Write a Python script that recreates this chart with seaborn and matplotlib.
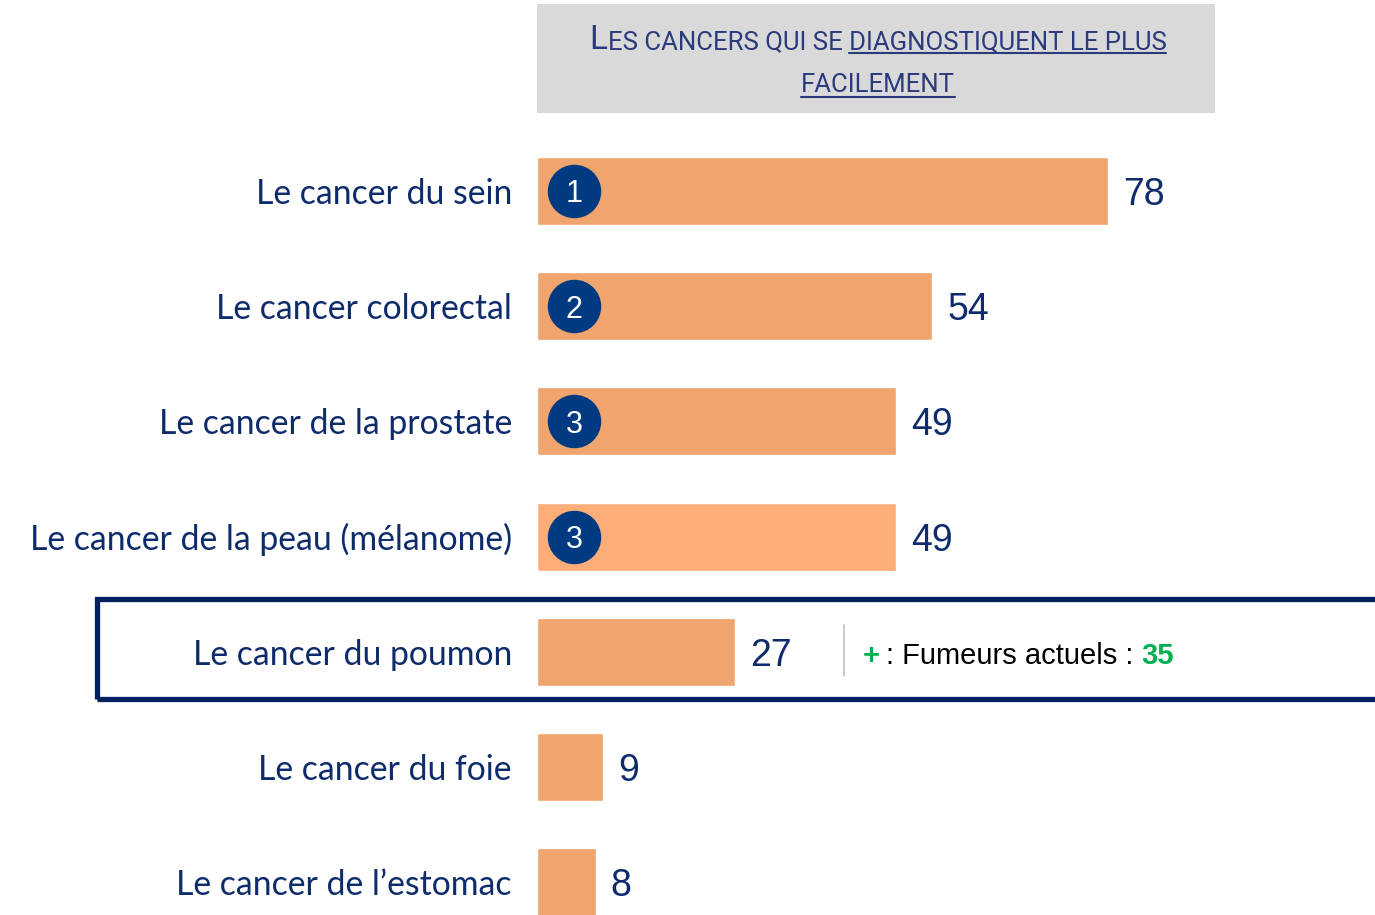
import matplotlib
matplotlib.use("Agg")
import matplotlib.pyplot as plt
import matplotlib.transforms as mtransforms
from matplotlib.patches import Rectangle
import pandas as pd
import seaborn as sns

# ---------------------------------------------------------
# DATA
# ---------------------------------------------------------
categories = ["Le cancer du sein", "Le cancer colorectal", "Le cancer de la prostate",
              "Le cancer de la peau (mélanome)", "Le cancer du poumon", "Le cancer du foie",
              "Le cancer de l’estomac"]
values = [78, 54, 49, 49, 27, 9, 8]
ranks = ["1", "2", "3", "3", "", "", ""]
highlight = "Le cancer du poumon"
smokers_label = ": Fumeurs actuels : "
smokers_value = 35
title_lead = "L"
title_rest = "ES CANCERS QUI SE DIAGNOSTIQUENT LE PLUS"
title_underlined = "DIAGNOSTIQUENT LE PLUS"
title_line2 = "FACILEMENT"

bar_colors = ["#F0A46E", "#F0A46E", "#F0A46E", "#FDAE78", "#F0A46E", "#F0A46E", "#F0A46E"]
NAVY = "#0E2C6B"
BADGE = "#003A80"
GREEN = "#00B050"
TITLE_COL = "#2B3A7C"
ARIAL = ["Liberation Sans", "DejaVu Sans"]

df = pd.DataFrame({"category": categories, "value": values})

sns.set_theme(style="white")
plt.rcParams["font.family"] = ["Lato", "DejaVu Sans"]

W, H = 1375, 915
fig = plt.figure(figsize=(W / 100, H / 100), dpi=100)

# bars: x from 537 px, 7.32 px per unit; rows every 115.2 px starting at 191 px
px_per_unit = 7.32
row_px = 115.2
top_px = 191 - row_px / 2
ax = fig.add_axes([537 / W, 0, (W - 537) / W, (H - top_px) / H])
sns.barplot(data=df, x="value", y="category", hue="category", palette=bar_colors,
            legend=False, saturation=1, width=0.59, orient="h", ax=ax)
ax.set_xlim(0, (W - 537) / px_per_unit)
ax.set_ylim(-0.5 + (H - top_px) / row_px, -0.5)
for s in ax.spines.values():
    s.set_visible(False)
ax.set_xticks([])
ax.set_xlabel("")
ax.set_ylabel("")
ax.tick_params(axis="y", length=0, pad=18, labelsize=24.3, labelcolor=NAVY)
for lab in ax.get_yticklabels():
    lab.set_verticalalignment("center_baseline")

# value labels
for cont in ax.containers:
    for t in ax.bar_label(cont, fmt="%d", padding=11, fontsize=27, color=NAVY, family=ARIAL):
        t.set_verticalalignment("center_baseline")

# rank badges
badge_tr = ax.get_yaxis_transform() + mtransforms.ScaledTranslation(0.37, 0, fig.dpi_scale_trans)
for i, r in enumerate(ranks):
    if r:
        ax.scatter([0], [i], s=38.5 ** 2, color=BADGE, transform=badge_tr, zorder=5,
                   clip_on=False, linewidths=0)
        ax.text(0, i, r, transform=badge_tr, ha="center", va="center_baseline", color="white",
                fontsize=22, family=ARIAL, zorder=6)

# highlight box around the lung cancer row
fig.patches.append(Rectangle((97 / W, 1 - 699 / H), 1.1, 100 / H, transform=fig.transFigure,
                             fill=False, edgecolor="#002060", linewidth=3.8, zorder=10))
fig.add_artist(plt.Line2D([844 / W, 844 / W], [1 - 676 / H, 1 - 625 / H],
                          color="#BFBFBF", linewidth=1.2))

# smokers annotation
fig.canvas.draw()
rend = fig.canvas.get_renderer()
ty = 1 - 664 / H
t_plus = fig.text(863 / W, ty, "+", color=GREEN, fontsize=21, fontweight="bold",
                  family=ARIAL, va="baseline")
bb = t_plus.get_window_extent(rend)
t_lab = fig.text((bb.x1 + 6) / W, ty, smokers_label, color="black", fontsize=21,
                 family=ARIAL, va="baseline")
bb = t_lab.get_window_extent(rend)
fig.text(bb.x1 / W, ty, str(smokers_value), color=GREEN, fontsize=21, fontweight="bold",
         family=ARIAL, va="baseline")

# header box
fig.patches.append(Rectangle((537 / W, 1 - 113 / H), 678 / W, 109 / H, transform=fig.transFigure,
                             facecolor="#D9D9D9", edgecolor="none", zorder=0))
title_font = ["Roboto", "DejaVu Sans"]
tsize = 18.5
cx = 878
base1 = 1 - 49 / H
t1 = fig.text(0, base1, title_rest, ha="left", va="baseline", fontsize=tsize,
              color=TITLE_COL, family=title_font)
lead = fig.text(0, base1, title_lead, ha="left", va="baseline", fontsize=tsize * 1.3,
                color=TITLE_COL, family=title_font)
w_rest = t1.get_window_extent(rend).width
w_lead = lead.get_window_extent(rend).width
x_start = cx - (w_rest + w_lead) / 2
lead.set_x(x_start / W)
t1.set_x((x_start + w_lead) / W)
probe = fig.text(0, 0, title_underlined, fontsize=tsize, family=title_font)
uw = probe.get_window_extent(rend).width
probe.remove()
x_end = x_start + w_lead + w_rest
uy = 1 - 53 / H
fig.add_artist(plt.Line2D([(x_end - uw) / W, x_end / W], [uy, uy], color=TITLE_COL, linewidth=1.5))
t2 = fig.text(cx / W, 1 - 92 / H, title_line2, ha="center", va="baseline", fontsize=tsize,
              color=TITLE_COL, family=title_font)
bb2 = t2.get_window_extent(rend)
uy2 = 1 - 97 / H
fig.add_artist(plt.Line2D([bb2.x0 / W, bb2.x1 / W], [uy2, uy2], color=TITLE_COL, linewidth=1.5))

fig.savefig("out.png", dpi=100)
